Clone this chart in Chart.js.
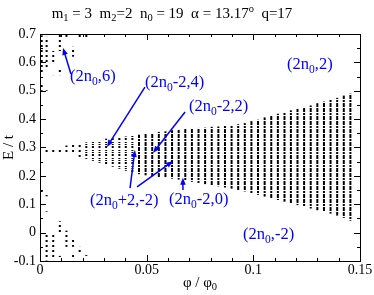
<!DOCTYPE html>
<html>
<head>
<meta charset="utf-8">
<script src="https://cdn.jsdelivr.net/npm/chart.js@4.4.0/dist/chart.umd.min.js"></script>
<style>
    html, body { margin: 0; padding: 0; background: #fff; }
    #wrap { width: 374px; height: 295px; }
</style>
</head>
<body>
<div id="wrap"><canvas id="c" width="374" height="295"></canvas></div>
<script>
// ─────────────────────────────────────────
//  DATE — coloanele spectrului (phi = k/323)
// ─────────────────────────────────────────
const colPhi = [
    0.0031, 0.0062, 0.0093, 0.0124, 0.0155, 0.0186, 0.0217, 0.0248, 0.0279, 0.0310,
    0.0341, 0.0372, 0.0402, 0.0433, 0.0464, 0.0495, 0.0526, 0.0557, 0.0588, 0.0619,
    0.0650, 0.0681, 0.0712, 0.0743, 0.0774, 0.0805, 0.0836, 0.0867, 0.0898, 0.0929,
    0.0960, 0.0991, 0.1022, 0.1053, 0.1084, 0.1115, 0.1146, 0.1176, 0.1207, 0.1238,
    0.1269, 0.1300, 0.1331, 0.1362, 0.1393, 0.1424, 0.1455
];
const bandHi = [
    0.296, 0.299, 0.302, 0.307, 0.310, 0.315, 0.318, 0.323, 0.326, 0.331,
    0.333, 0.337, 0.339, 0.343, 0.345, 0.349, 0.351, 0.355, 0.357, 0.361,
    0.362, 0.365, 0.366, 0.369, 0.370, 0.373, 0.374, 0.377, 0.378, 0.382,
    0.386, 0.393, 0.398, 0.406, 0.412, 0.419, 0.424, 0.431, 0.436, 0.443,
    0.448, 0.456, 0.462, 0.469, 0.475, 0.483, 0.490
];
const bandLo = [
    0.284, 0.282, 0.279, 0.277, 0.274, 0.267, 0.260, 0.253, 0.246, 0.239,
    0.232, 0.225, 0.218, 0.212, 0.206, 0.202, 0.199, 0.196, 0.193, 0.190,
    0.187, 0.183, 0.179, 0.175, 0.171, 0.167, 0.163, 0.159, 0.155, 0.150,
    0.145, 0.139, 0.133, 0.127, 0.121, 0.115, 0.109, 0.103, 0.097, 0.091,
    0.085, 0.079, 0.073, 0.067, 0.060, 0.052, 0.042
];

// familiile rare (2n0,6) sus si (2n0,-2) jos
const sparsePhi = [
    0.0008, 0.0008, 0.0031, 0.0031, 0.0062, 0.0062, 0.0093, 0.0093, 0.0124, 0.0155,
    0.0186, 0.0217,
    0.0008, 0.0031, 0.0031, 0.0031, 0.0062, 0.0093, 0.0093, 0.0093, 0.0124, 0.0155,
    0.0155, 0.0186, 0.0217, 0.0248
];
const sparseLo = [
    0.560, 0.500, 0.580, 0.500, 0.600, 0.555, 0.640, 0.555, 0.690, 0.620,
    0.680, 0.685,
    0.140, 0.128, 0.065, -0.098, -0.095, 0.000, -0.058, -0.088, -0.050, -0.050,
    -0.090, -0.075, -0.082, -0.095
];
const sparseHi = [
    0.695, 0.520, 0.690, 0.510, 0.640, 0.565, 0.700, 0.575, 0.700, 0.655,
    0.700, 0.700,
    0.155, 0.136, 0.075, 0.000, 0.000, 0.040, -0.052, -0.082, 0.007, -0.020,
    -0.075, -0.050, -0.074, -0.089
];

const xTicks = [0, 0.05, 0.1, 0.15];
const xTickLabels = ['0', '0.05', '0.1', '0.15'];
const yTicks = [-0.1, 0, 0.1, 0.2, 0.3, 0.4, 0.5, 0.6, 0.7];
const yTickLabels = ['-0.1', '0', '0.1', '0.2', '0.3', '0.4', '0.5', '0.6', '0.7'];

// ─────────────────────────────────────────
//  TEXTE + SAGETI (coordonate in unitati de date)
// ─────────────────────────────────────────
const notes = [
    { parts: [['(2n', ''], ['0', 'sub'], [',6)', '']], x: 0.0141, y: 0.548,
      arrows: [[0.0145, 0.559, 0.0108, 0.651]] },
    { parts: [['(2n', ''], ['0', 'sub'], ['-2,4)', '']], x: 0.0492, y: 0.527,
      arrows: [[0.0492, 0.513, 0.0314, 0.302]] },
    { parts: [['(2n', ''], ['0', 'sub'], ['-2,2)', '']], x: 0.0698, y: 0.444,
      arrows: [[0.0680, 0.425, 0.0530, 0.281]] },
    { parts: [['(2n', ''], ['0', 'sub'], [',2)', '']], x: 0.1158, y: 0.591, arrows: [] },
    { parts: [['(2n', ''], ['0', 'sub'], ['+2,-2)', '']], x: 0.0234, y: 0.111,
      arrows: [[0.0422, 0.157, 0.0445, 0.291], [0.0455, 0.161, 0.0623, 0.252]] },
    { parts: [['(2n', ''], ['0', 'sub'], ['-2,0)', '']], x: 0.0605, y: 0.115,
      arrows: [[0.0670, 0.150, 0.0670, 0.193]] },
    { parts: [['(2n', ''], ['0', 'sub'], [',-2)', '']], x: 0.0952, y: -0.008, arrows: [] }
];

const FONT = '"Liberation Serif", "Times New Roman", serif';
const BLUE = '#0000ff';

// text cu indici / exponenti
function richText(ctx, parts, x, y, size, align) {
    let w = 0;
    parts.forEach(p => {
        ctx.font = (p[1] ? size * 0.7 : size) + 'px ' + FONT;
        w += ctx.measureText(p[0]).width;
    });
    let cx = align === 'center' ? x - w / 2 : x;
    ctx.textAlign = 'left';
    ctx.textBaseline = 'middle';
    parts.forEach(p => {
        const s = p[1] ? size * 0.7 : size;
        ctx.font = s + 'px ' + FONT;
        const dy = p[1] === 'sub' ? size * 0.3 : (p[1] === 'sup' ? -size * 0.35 : 0);
        ctx.fillText(p[0], cx, y + dy);
        cx += ctx.measureText(p[0]).width;
    });
}

// modele de puncte pentru coloane (randuri negre / albe)
function dotPattern(rows) {
    const cv = document.createElement('canvas');
    cv.width = 2; cv.height = rows.length;
    const g = cv.getContext('2d');
    g.fillStyle = '#000';
    rows.forEach((r, i) => { if (r) g.fillRect(0, i, 2, 1); });
    return g.createPattern(cv, 'repeat');
}
const densePat = dotPattern([1, 1, 1, 0, 1, 1, 1, 1, 0, 1, 1, 0, 1]);
const midPat = dotPattern([1, 0, 1, 1, 0, 0, 1, 0]);
const sparsePat = dotPattern([1, 1, 0, 0, 0]);

const framePlugin = {
    id: 'frame',
    afterDraw(chart) {
        const ctx = chart.ctx;
        const a = chart.chartArea;
        const xs = chart.scales.x, ys = chart.scales.y;
        ctx.save();

        // cadru
        ctx.strokeStyle = '#000';
        ctx.lineWidth = 1;
        ctx.strokeRect(Math.round(a.left) + 0.5, Math.round(a.top) + 0.5,
            Math.round(a.right - a.left), Math.round(a.bottom - a.top));

        // tick-uri spre interior, pe toate laturile
        ctx.beginPath();
        for (let i = 0; i <= 15; i++) {
            const px = Math.round(xs.getPixelForValue(i * 0.01)) + 0.5;
            const len = i % 5 === 0 ? 6 : 3;
            ctx.moveTo(px, a.bottom); ctx.lineTo(px, a.bottom - len);
            ctx.moveTo(px, a.top); ctx.lineTo(px, a.top + len);
        }
        for (let i = 0; i <= 16; i++) {
            const py = Math.round(ys.getPixelForValue(-0.1 + i * 0.05)) + 0.5;
            const len = i % 2 === 0 ? 6 : 3;
            ctx.moveTo(a.left, py); ctx.lineTo(a.left + len, py);
            ctx.moveTo(a.right, py); ctx.lineTo(a.right - len, py);
        }
        ctx.stroke();

        // etichete axe
        ctx.fillStyle = '#000';
        ctx.font = '14px ' + FONT;
        ctx.textBaseline = 'middle';
        ctx.textAlign = 'center';
        xTicks.forEach((v, i) => ctx.fillText(xTickLabels[i], xs.getPixelForValue(v), a.bottom + 9));
        ctx.textAlign = 'right';
        yTicks.forEach((v, i) => ctx.fillText(yTickLabels[i], a.left - 4, ys.getPixelForValue(v)));

        richText(ctx, [['\u03c6 / \u03c6', ''], ['0', 'sub']], (a.left + a.right) / 2, 283, 15, 'center');
        ctx.save();
        ctx.translate(9, (a.top + a.bottom) / 2);
        ctx.rotate(-Math.PI / 2);
        richText(ctx, [['E / t', '']], 0, 0, 15, 'center');
        ctx.restore();

        // titlu
        richText(ctx, [['m', ''], ['1', 'sub'], [' = 3  m', ''], ['2', 'sub'], ['=2  n', ''], ['0', 'sub'],
            [' = 19  \u03b1 = 13.17', ''], ['o', 'sup'], ['  q=17', '']], 172, 14, 15, 'center');

        // adnotari albastre
        ctx.fillStyle = BLUE;
        ctx.strokeStyle = BLUE;
        ctx.lineWidth = 1.5;
        notes.forEach(n => {
            richText(ctx, n.parts, xs.getPixelForValue(n.x), ys.getPixelForValue(n.y), 16.5, 'left');
            n.arrows.forEach(ar => {
                const x0 = xs.getPixelForValue(ar[0]), y0 = ys.getPixelForValue(ar[1]);
                const x1 = xs.getPixelForValue(ar[2]), y1 = ys.getPixelForValue(ar[3]);
                const ang = Math.atan2(y1 - y0, x1 - x0);
                ctx.beginPath();
                ctx.moveTo(x0, y0);
                ctx.lineTo(x1 - 5 * Math.cos(ang), y1 - 5 * Math.sin(ang));
                ctx.stroke();
                ctx.beginPath();
                ctx.moveTo(x1, y1);
                ctx.lineTo(x1 - 7 * Math.cos(ang) + 2.8 * Math.sin(ang), y1 - 7 * Math.sin(ang) - 2.8 * Math.cos(ang));
                ctx.lineTo(x1 - 7 * Math.cos(ang) - 2.8 * Math.sin(ang), y1 - 7 * Math.sin(ang) + 2.8 * Math.cos(ang));
                ctx.closePath();
                ctx.fill();
            });
        });
        ctx.restore();
    }
};

new Chart(document.getElementById('c'), {
    type: 'bar',
    data: {
        datasets: [
            {
                data: colPhi.map((p, i) => ({ x: p, y: [bandLo[i], bandHi[i]] })),
                backgroundColor: ctx => (ctx.dataIndex < 6 ? sparsePat : (ctx.dataIndex < 14 ? midPat : densePat)),
                barThickness: 2,
                maxBarThickness: 2,
                borderWidth: 0,
                inflateAmount: 0,
                grouped: false,
            },
            {
                data: sparsePhi.map((p, i) => ({ x: p, y: [sparseLo[i], sparseHi[i]] })),
                backgroundColor: sparsePat,
                barThickness: 2,
                maxBarThickness: 2,
                borderWidth: 0,
                inflateAmount: 0,
                grouped: false,
            },
        ],
    },
    options: {
        responsive: false,
        animation: false,
        layout: { padding: { left: 40, right: 14, top: 34, bottom: 34 } },
        plugins: { legend: { display: false }, tooltip: { enabled: false } },
        scales: {
            x: { type: 'linear', min: 0, max: 0.15, offset: false, display: false },
            y: { type: 'linear', min: -0.1, max: 0.7, display: false },
        },
    },
    plugins: [framePlugin],
});
</script>
</body>
</html>
